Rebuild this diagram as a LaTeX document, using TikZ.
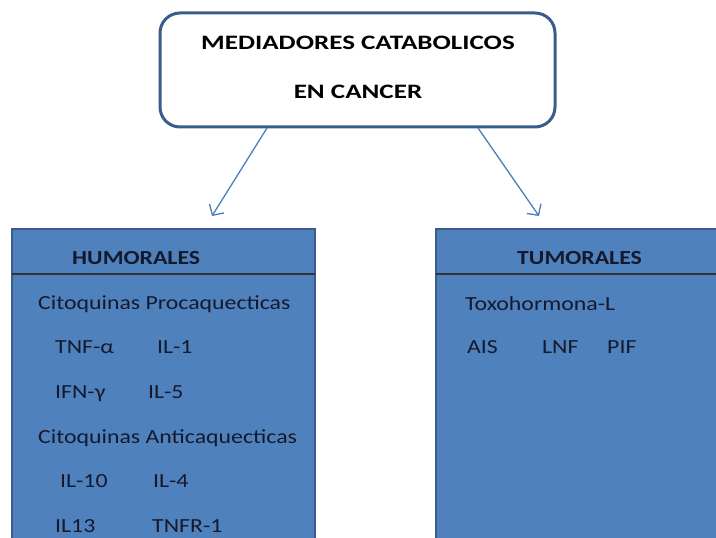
\documentclass[tikz,border=0pt]{standalone}
\usepackage{fontspec}
\setmainfont{Carlito}[FakeStretch=1.19]
\newfontfamily\titlefont{Carlito}[FakeStretch=1.32]
\usetikzlibrary{arrows.meta}
\definecolor{boxfill}{HTML}{4F81BD}
\definecolor{boxline}{HTML}{385D8A}
\definecolor{arrowc}{HTML}{4A7EBB}
\definecolor{txtc}{HTML}{141A2E}
\tikzset{
  txt/.style={anchor=base west, inner sep=0pt, font=\fontsize{20bp}{24bp}\selectfont, text=txtc},
  hdr/.style={txt, font=\fontsize{20bp}{24bp}\selectfont\bfseries},
  ttl/.style={anchor=base, inner sep=0pt, font=\titlefont\fontsize{20.5bp}{24bp}\selectfont\bfseries},
  conn/.style={draw=arrowc, line width=1.3bp, -{Straight Barb[length=8bp,width=17bp,line width=1.3bp]}},
  panel/.style={fill=boxfill, draw=boxline, line width=1.5bp},
}
\begin{document}
\begin{tikzpicture}[x=1bp,y=-1bp]
\useasboundingbox (0,0) rectangle (716,538);
\clip (0,0) rectangle (716,538);
% top box
\draw[fill=white, draw=boxline, line width=3bp, rounded corners=20bp] (160,13) rectangle (555,127);
\node[ttl] (t1) at (358,50) {MEDIADORES CATABOLICOS};
\node[ttl] (t2) at (358,99) {EN CANCER};
\coordinate (topL) at (267,128);
\coordinate (topR) at (478,128);
% panels
\draw[panel] (12,229) rectangle (315,560);
\draw[black!80, line width=1.5bp] (12,274) -- (315,274);
\draw[panel] (436,229) rectangle (740,560);
\draw[black!80, line width=1.5bp] (436,274) -- (740,274);
\coordinate (humT) at (212,216);
\coordinate (tumT) at (539,216);
\draw[conn] (topL) -- (humT);
\draw[conn] (topR) -- (tumT);
% left texts
\node[hdr] (hum) at (72,265) {HUMORALES};
\node[txt] (l1) at (38,309) {Citoquinas Procaquecticas};
\node[txt] (l2a) at (55,353) {TNF-α};
\node[txt] (l2b) at (157,353) {IL-1};
\node[txt] (l3a) at (55,398) {IFN-γ};
\node[txt] (l3b) at (148,398) {IL-5};
\node[txt] (l4) at (38,443) {Citoquinas Anticaquecticas};
\node[txt] (l5a) at (60,487) {IL-10};
\node[txt] (l5b) at (153,487) {IL-4};
\node[txt] (l6a) at (55,532) {IL13};
\node[txt] (l6b) at (152,532) {TNFR-1};
% right texts
\node[hdr] (tum) at (517,265) {TUMORALES};
\node[txt] (r1) at (465,310) {Toxohormona-L};
\node[txt] (r2a) at (467,353) {AIS};
\node[txt] (r2b) at (542,353) {LNF};
\node[txt] (r2c) at (607,353) {PIF};
\end{tikzpicture}
\end{document}
